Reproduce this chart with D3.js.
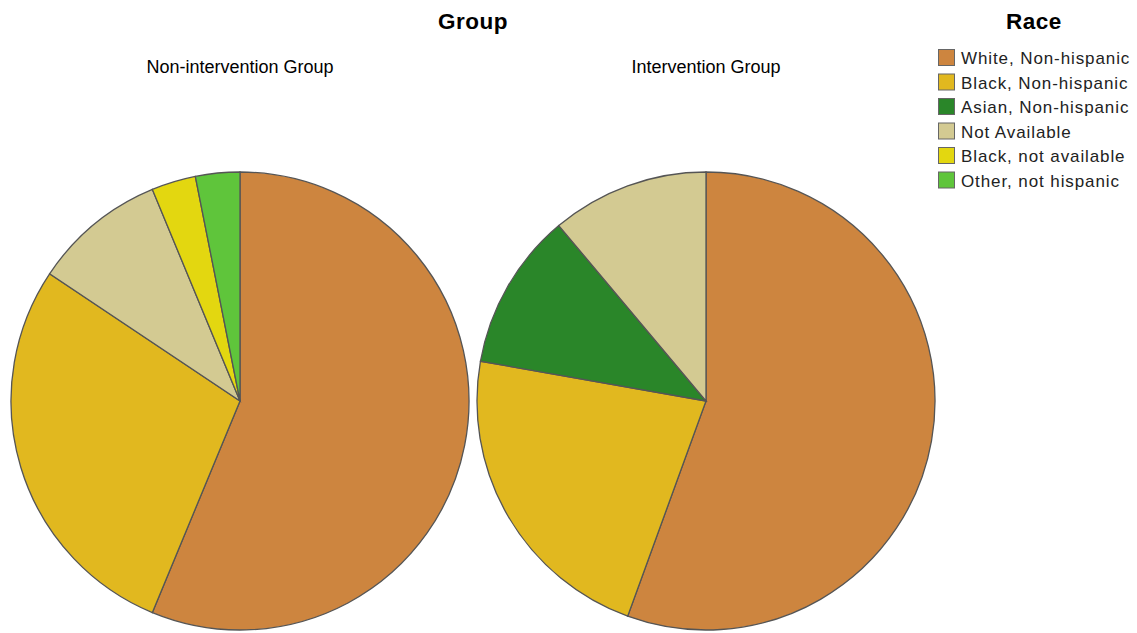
<!DOCTYPE html>
<html>
<head>
<meta charset="utf-8">
<script src="https://cdn.jsdelivr.net/npm/d3@7"></script>
<style>
  body { margin: 0; background: #fff; }
  text { font-family: "Liberation Sans", Arial, sans-serif; }
</style>
</head>
<body>
<svg id="chart" width="1137" height="633"></svg>
<script>
// data
const races = ['White, Non-hispanic', 'Black, Non-hispanic', 'Asian, Non-hispanic',
  'Not Available', 'Black, not available', 'Other, not hispanic'];
const colors = ['#cd853f', '#e1b81f', '#2a8629', '#d3ca92', '#e3d710', '#5fc53b'];
const groups = ['Non-intervention Group', 'Intervention Group'];
const nonIntervention = [18, 9, 0, 3, 1, 1];
const intervention = [10, 4, 2, 2, 0, 0];

const svg = d3.select('#chart');
const color = d3.scaleOrdinal().domain(races).range(colors);

// titles
svg.append('text')
  .attr('x', 473).attr('y', 29)
  .attr('text-anchor', 'middle')
  .attr('font-size', 22.5).attr('font-weight', 'bold')
  .attr('letter-spacing', 0.5)
  .text('Group');

const xPos = d3.scalePoint().domain(groups).range([240, 706]);
const radius = 229;
const cy = 401;

const pie = d3.pie().sort(null).value(d => d.v);
const arc = d3.arc().innerRadius(0).outerRadius(radius);

[nonIntervention, intervention].forEach((vals, i) => {
  let g = svg.append('g')
    .attr('transform', `translate(${xPos(groups[i])},${cy})`);

  svg.append('text')
    .attr('x', xPos(groups[i])).attr('y', 73)
    .attr('text-anchor', 'middle')
    .attr('font-size', 18)
    .text(groups[i]);

  let data = races.map((r, j) => ({race: r, v: vals[j]})).filter(d => d.v > 0);
  g.selectAll('path')
    .data(pie(data))
    .enter()
    .append('path')
    .attr('d', arc)
    .attr('fill', d => color(d.data.race))
    .attr('stroke', '#555')
    .attr('stroke-width', 1.3);
});

// legend
svg.append('text')
  .attr('x', 1034).attr('y', 29)
  .attr('text-anchor', 'middle')
  .attr('font-size', 22.5).attr('font-weight', 'bold')
  .attr('letter-spacing', 0.5)
  .text('Race');

const legY = d3.scaleBand().domain(races).range([49, 196]);
const leg = svg.selectAll('.leg')
  .data(races)
  .enter()
  .append('g')
  .attr('transform', d => `translate(938,${legY(d)})`);

leg.append('rect')
  .attr('x', 0.5).attr('y', 0.5)
  .attr('width', 16).attr('height', 16)
  .attr('fill', d => color(d))
  .attr('stroke', '#666');

leg.append('text')
  .attr('x', 23).attr('y', 15)
  .attr('font-size', 17)
  .attr('letter-spacing', 0.9)
  .attr('fill', '#222')
  .text(d => d);
</script>
</body>
</html>
